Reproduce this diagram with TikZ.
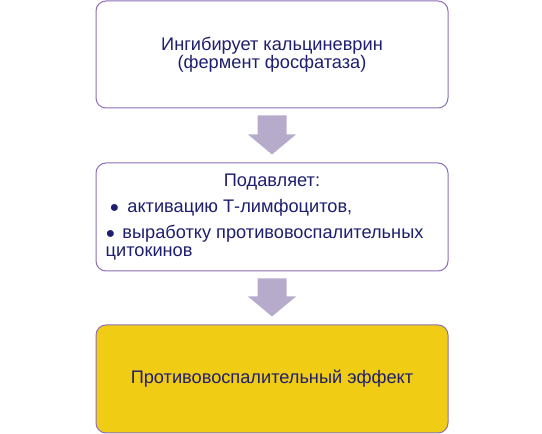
\documentclass[tikz,border=0pt]{standalone}
\usepackage{fontspec}
\setmainfont{Liberation Sans}
\usetikzlibrary{calc}
\definecolor{bordc}{HTML}{8E6FB8}
\definecolor{arrowc}{HTML}{B7ABCB}
\definecolor{txtc}{HTML}{1E1E6E}
\definecolor{goldc}{HTML}{F0CC14}
\newcommand\mybulfont{\fontsize{16}{16}\selectfont}
\tikzset{
  box/.style={draw=bordc, line width=1pt, rounded corners=10pt, minimum width=352pt, minimum height=107pt, inner sep=0pt, fill=white, text=txtc, font=\fontsize{18.2}{17.6}\selectfont, align=center},
  goldbox/.style={box, fill=goldc},
  line/.style={inner sep=0pt, text=txtc, font=\fontsize{18.2}{17.6}\selectfont}
}
\newcommand\blockarrow[2]{%
  \fill[arrowc] let \p1=(#1.south), \p2=(#2.north) in
    (\x1-14.5pt,\y1-7pt) -- (\x1+14.5pt,\y1-7pt) -- (\x1+14.5pt,\y2+28pt) -- (\x1+24pt,\y2+28pt)
    -- (\x1,\y2+8pt) -- (\x1-24pt,\y2+28pt) -- (\x1-14.5pt,\y2+28pt) -- cycle;}
\begin{document}
\begin{tikzpicture}[x=1pt,y=1pt]
\useasboundingbox (0,0) rectangle (542,434);
\node[box] (top) at (272,379.5) {Ингибирует кальциневрин\\(фермент фосфатаза)};
\node[box, minimum height=108pt] (mid) at (272,217) {};
\node[goldbox, minimum height=108pt] (bot) at (272,55) {Противовоспалительный эффект};
\node[line, anchor=base] (m1) at ($(mid.north)+(0,-24)$) {Подавляет:};
\node[line, anchor=base west] (m2) at ($(mid.north west)+(14,-50)$) {{\mybulfont ●}\hspace{3pt} активацию Т-лимфоцитов,};
\node[line, anchor=base west] (m3) at ($(mid.north west)+(10,-76)$) {{\mybulfont ●}\hspace{2pt} выработку противовоспалительных};
\node[line, anchor=base west] (m4) at ($(mid.north west)+(10,-94)$) {цитокинов};
\blockarrow{top}{mid}
\blockarrow{mid}{bot}
\end{tikzpicture}
\end{document}
